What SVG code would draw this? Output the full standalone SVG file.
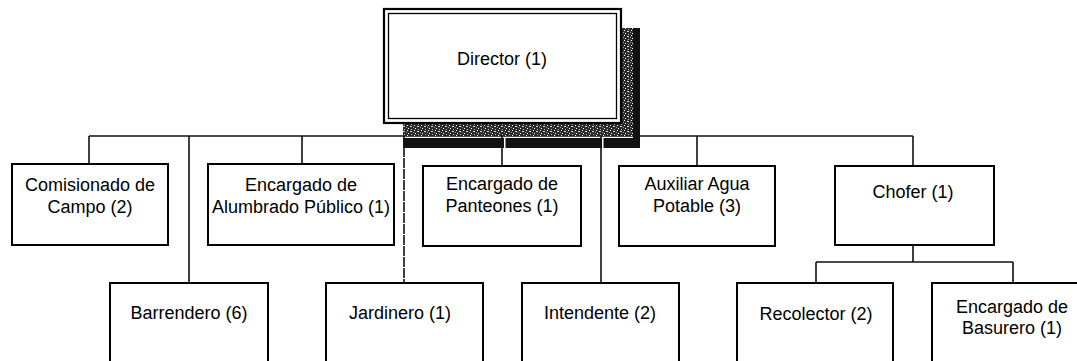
<svg xmlns="http://www.w3.org/2000/svg" width="1077" height="361" viewBox="0 0 1077 361">
<style>
.box{fill:#fff;stroke:#000;stroke-width:2}
.t{font-family:"Liberation Sans",Arial,sans-serif;font-size:18px;fill:#000;text-anchor:middle}
.ln{fill:none;stroke:#111;stroke-width:1.6}
</style>
<defs>
<pattern id="speck" width="7" height="5" patternUnits="userSpaceOnUse">
<rect width="7" height="5" fill="#2a2a2a"/>
<rect x="1" y="0" width="1" height="1" fill="#fff"/>
<rect x="4" y="1" width="2" height="1" fill="#ddd"/>
<rect x="2" y="3" width="1" height="1" fill="#fff"/>
<rect x="5" y="4" width="1" height="1" fill="#bbb"/>
<rect x="0" y="2" width="1" height="1" fill="#999"/>
</pattern>
</defs>
<rect width="1077" height="361" fill="#fff"/>
<g id="connectors">
<path class="ln" d="M89,136 H913"/>
<path class="ln" d="M89,136 V164"/>
<path class="ln" d="M189,136 V283"/>
<path class="ln" d="M302,136 V164"/>
<path class="ln" d="M404,136 V283" stroke-dasharray="10,1"/>
<path class="ln" d="M502,136 V166"/>
<path class="ln" d="M601,136 V283"/>
<path class="ln" d="M697,136 V166"/>
<path class="ln" d="M913,136 V166"/>
<path class="ln" d="M913,245 V262 M816,262 H1013 M816,262 V283 M1013,262 V283"/>
</g>
<g id="director">
<rect x="403" y="124" width="230" height="12" fill="url(#speck)"/>
<rect x="621" y="28" width="12" height="108" fill="url(#speck)"/>
<rect x="403" y="138" width="237" height="10" fill="#111"/>
<rect x="633" y="28" width="7" height="120" fill="#111"/>
<rect x="504" y="138" width="1.5" height="10" fill="#fff"/>
<rect x="602" y="138" width="1.5" height="10" fill="#fff"/>
<rect x="384" y="9" width="237" height="114" fill="#fff" stroke="#000" stroke-width="2.2"/>
<rect x="388.5" y="13.5" width="228" height="105" fill="none" stroke="#000" stroke-width="1.3"/>
<text class="t" x="502" y="65">Director (1)</text>
</g>
<g id="comisionado">
<rect class="box" x="12" y="164" width="156" height="81"/>
<text class="t" x="90" y="191">Comisionado de</text>
<text class="t" x="90" y="213">Campo (2)</text>
</g>
<g id="alumbrado">
<rect class="box" x="208" y="164" width="186" height="81"/>
<text class="t" x="301" y="191">Encargado de</text>
<text class="t" x="301" y="213">Alumbrado Público (1)</text>
</g>
<g id="panteones">
<rect class="box" x="423" y="166" width="158" height="80"/>
<text class="t" x="502" y="190">Encargado de</text>
<text class="t" x="502" y="212">Panteones (1)</text>
</g>
<g id="auxiliar">
<rect class="box" x="619" y="166" width="156" height="80"/>
<text class="t" x="697" y="190">Auxiliar Agua</text>
<text class="t" x="697" y="212">Potable (3)</text>
</g>
<g id="chofer">
<rect class="box" x="835" y="166" width="159" height="79"/>
<text class="t" x="913" y="198">Chofer (1)</text>
</g>
<g id="barrendero">
<rect class="box" x="110" y="283" width="158" height="100"/>
<text class="t" x="189" y="319">Barrendero (6)</text>
</g>
<g id="jardinero">
<rect class="box" x="326" y="283" width="157" height="100"/>
<text class="t" x="400" y="319">Jardinero (1)</text>
</g>
<g id="intendente">
<rect class="box" x="522" y="283" width="157" height="100"/>
<text class="t" x="600" y="319">Intendente (2)</text>
</g>
<g id="recolector">
<rect class="box" x="737" y="283" width="156" height="100"/>
<text class="t" x="816" y="320">Recolector (2)</text>
</g>
<g id="basurero">
<rect class="box" x="932" y="283" width="160" height="100"/>
<text class="t" x="1012" y="313">Encargado de</text>
<text class="t" x="1012" y="334">Basurero (1)</text>
</g>
</svg>
